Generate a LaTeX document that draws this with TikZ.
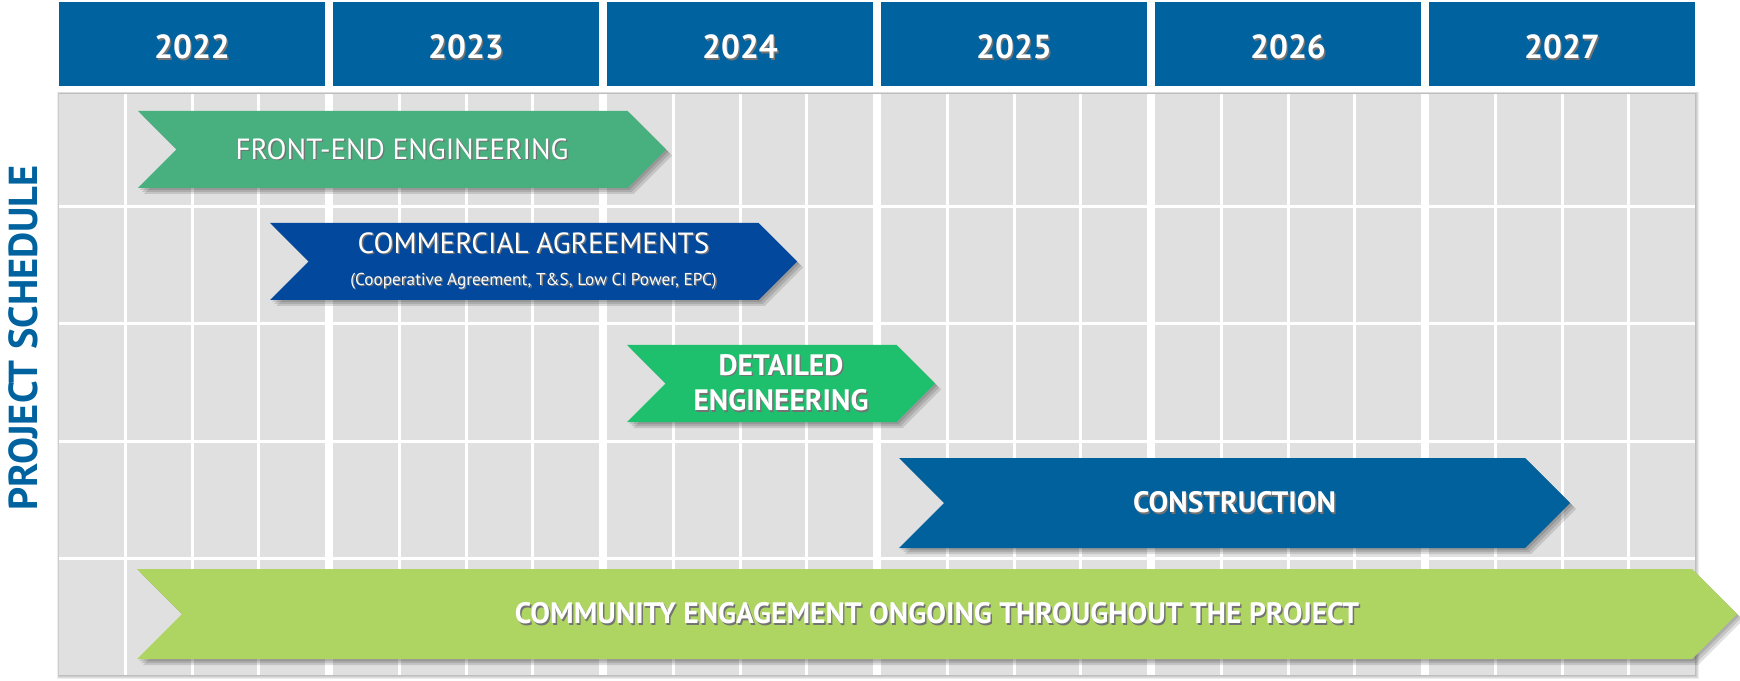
\documentclass[tikz,border=0pt]{standalone}
\usepackage{fontspec}
\setmainfont{PT Sans}
\usetikzlibrary{calc}

\definecolor{headblue}{RGB}{0,98,158}
\definecolor{cellgrey}{RGB}{224,224,224}
\definecolor{frontgreen}{RGB}{71,176,126}
\definecolor{commblue}{RGB}{2,73,158}
\definecolor{detgreen}{RGB}{30,192,110}
\definecolor{buildblue}{RGB}{0,97,157}
\definecolor{lightgreen}{RGB}{174,212,98}

% white text with a small dark shadow
\newcommand\tsh[1]{\rlap{\kern.8pt\raisebox{-.8pt}{\color{black!55}#1}}#1}

% one bar: name, colour, left x, tip x, top y, bottom y, text options, text
\newcommand\ganttbar[8]{%
  \foreach \s in {2,4,6}
    \fill[black, opacity=.12, shift={(\s,\s)}]
      (#3,#5) -- ({#4-(#6-#5)/2},#5) -- (#4,{(#5+#6)/2}) -- ({#4-(#6-#5)/2},#6)
      -- (#3,#6) -- ({#3+(#6-#5)/2},{(#5+#6)/2}) -- cycle;
  \fill[#2]
      (#3,#5) -- ({#4-(#6-#5)/2},#5) -- (#4,{(#5+#6)/2}) -- ({#4-(#6-#5)/2},#6)
      -- (#3,#6) -- ({#3+(#6-#5)/2},{(#5+#6)/2}) -- cycle;
  \node[bartext, #7] (#1) at ({(#3+#4)/2},{(#5+#6)/2}) {#8};
}

\begin{document}
\begin{tikzpicture}[x=0.2mm, y=-0.2mm,
    yearbox/.style={fill=headblue, text=white, inner sep=0pt,
      minimum width=53.2mm, minimum height=16.8mm,
      text height=17pt, text depth=0pt,
      font=\bfseries\fontsize{19}{22}\selectfont},
    bartext/.style={text=white, inner sep=0pt, align=center,
      font=\fontsize{16.6}{19}\selectfont},
    boldbar/.style={font=\bfseries\fontsize{16.8}{20}\selectfont}]
  \useasboundingbox (0,0) rectangle (1740,681);

  % panel shadow and cells
  \foreach \s in {1,2,3,4}
    \fill[black, opacity=.07] ({59-\s/2},{94-\s/2}) rectangle ({1695+\s},{675+\s});
  \fill[cellgrey] (59,94) rectangle (1695,675);

  % quarter lines
  \foreach \i in {0,...,5}
    \foreach \q in {1,2,3}
      \fill[white] ({59+274*\i+66.5*\q-1.5},94) rectangle ++(3,581);
  % year gaps
  \foreach \i in {0,...,4}
    \fill[white] ({59+274*\i+266},94) rectangle ++(8,581);
  % row lines
  \foreach \y in {207,324,441,558}
    \fill[white] (59,{\y-1.5}) rectangle (1695,{\y+1.5});

  % year headers
  \foreach \yr [count=\i from 0] in {2022,...,2027}
    \node[yearbox] (y\yr) at ({59+274*\i+133},44) {\tsh{\yr}};

  % side title
  \node[rotate=90, text=headblue, font=\bfseries\fontsize{23}{27}\selectfont]
    (title) at (23,338) {PROJECT SCHEDULE};

  % bars
  \ganttbar{front}{frontgreen}{138}{666}{111}{188}{}{\tsh{FRONT-END ENGINEERING}}
  \ganttbar{comm}{commblue}{270}{797}{223}{300}{}
    {\tsh{COMMERCIAL AGREEMENTS}\\[-1pt]
     {\fontsize{9.8}{11}\selectfont\tsh{(Cooperative Agreement, T\&S, Low CI Power, EPC)}}}
  \ganttbar{detail}{detgreen}{627}{935}{345}{422}{boldbar}
    {\tsh{DETAILED}\\\tsh{ENGINEERING}}
  \ganttbar{build}{buildblue}{899}{1570}{458}{548}{boldbar}{\tsh{CONSTRUCTION}}
  \ganttbar{people}{lightgreen}{137}{1737}{569}{659}{boldbar}
    {\tsh{COMMUNITY ENGAGEMENT ONGOING THROUGHOUT THE PROJECT}}
\end{tikzpicture}
\end{document}
